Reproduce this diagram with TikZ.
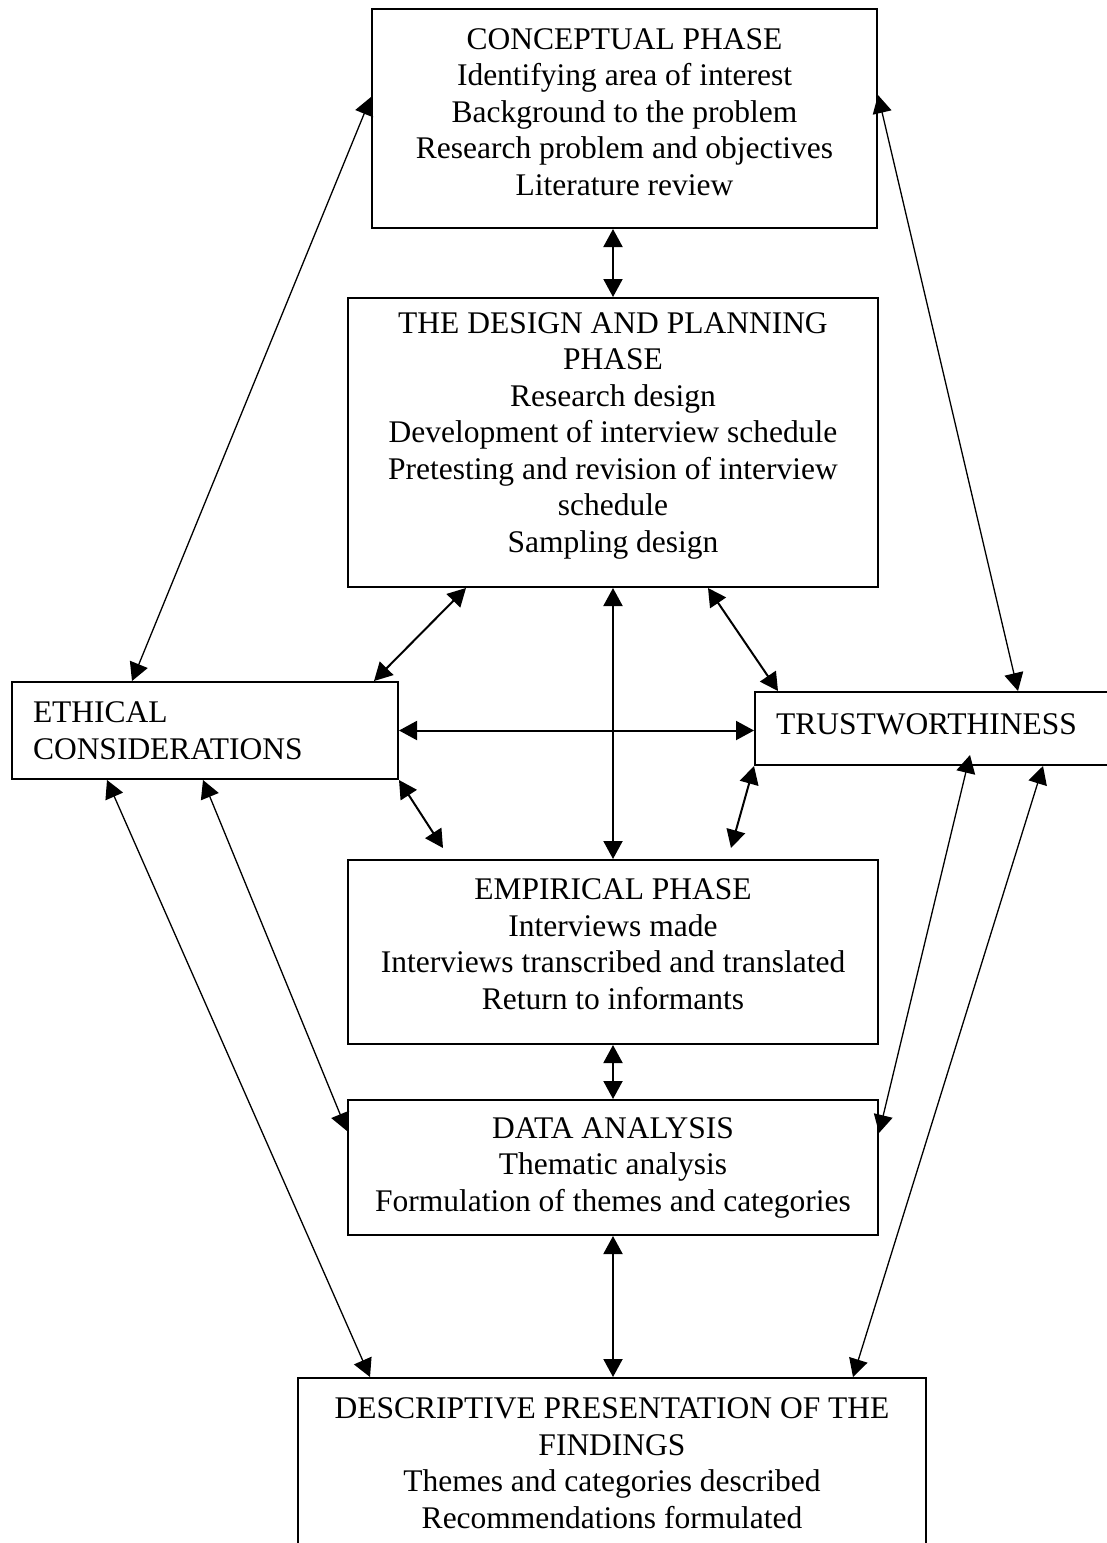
\documentclass[tikz,border=0pt]{standalone}
\usepackage{fontspec}
\setmainfont{Liberation Serif}
\usetikzlibrary{arrows.meta,calc}

\begin{document}
\begin{tikzpicture}[line cap=round,>={Triangle[length=9pt,width=9.5pt]},x=0.5pt,y=-0.5pt,
    every node/.style={font=\fontsize{15.75}{18.25}\selectfont},
    phase/.style={draw,line width=1pt,anchor=north west,align=center,inner sep=0pt},
    side/.style={draw,line width=1pt,anchor=north west,align=left,inner xsep=10.5pt,inner ysep=0pt},
    link/.style={<->,line width=1pt},
    farlink/.style={<->,line width=0.65pt}]
      \clip(0,0) rectangle (1107,1543);

      % the phases, top to bottom (the \rule lifts the text towards the top)
      \node[phase,minimum width=252.5pt,minimum height=109.5pt] (concept) at (371,8)
        {CONCEPTUAL PHASE\\Identifying area of interest\\Background to the problem\\Research problem and objectives\\Literature review\rule[-6.5pt]{0pt}{0pt}};
      \node[phase,minimum width=265pt,minimum height=144.5pt] (design) at (347,297)
        {THE DESIGN AND PLANNING\\PHASE\\Research design\\Development of interview schedule\\Pretesting and revision of interview\\schedule\\Sampling design\rule[-10pt]{0pt}{0pt}};
      \node[phase,minimum width=265pt,minimum height=92pt] (emp) at (347,859)
        {EMPIRICAL PHASE\\Interviews made\\Interviews transcribed and translated\\Return to informants\rule[-8pt]{0pt}{0pt}};
      \node[phase,minimum width=265pt,minimum height=67.5pt] (data) at (347,1099)
        {DATA ANALYSIS\\Thematic analysis\\Formulation of themes and categories};
      \node[phase,minimum width=314pt,minimum height=85pt] (desc) at (297,1377)
        {DESCRIPTIVE PRESENTATION OF THE\\FINDINGS\\Themes and categories described\\Recommendations formulated};

      % the two side boxes
      \node[side,text width=172pt,minimum height=48.5pt] (ethic) at (11,681) {ETHICAL\\CONSIDERATIONS};
      \node[side,text width=167pt,minimum height=36.5pt] (trust) at (754,691) {TRUSTWORTHINESS\rule[-4.5pt]{0pt}{0pt}};

      \draw[link] (concept.south -| design.north) -- (design.north);
      \draw[link] (design.south) -- (emp.north);
      \draw[link] (emp.south) -- (data.north);
      \draw[link] (data.south) -- (data.south |- desc.north);
      \draw[link] (ethic.east) -- (ethic.east -| trust.west);

      \draw[link] ($(design.south west)+(119,0)$) -- ($(ethic.north east)+(-25,0)$);
      \draw[link] ($(design.south west)+(361,0)$) -- ($(trust.north west)+(24,0)$);
      \draw[link] (ethic.south east) -- ($(emp.north west)+(96,-11)$);
      \draw[link] (trust.south west) -- ($(emp.north west)+(384,-11)$);

      \draw[farlink] ($(ethic.north west)+(121,0)$) -- ($(concept.north west)+(0,89)$);
      \draw[farlink] ($(trust.north west)+(264,0)$) -- ($(concept.north east)+(0,87)$);
      \draw[farlink] ($(ethic.south west)+(192,0)$) -- ($(data.north west)+(0,32)$);
      \draw[farlink] ($(ethic.south west)+(96,0)$) -- ($(desc.north west)+(73,0)$);
      \draw[farlink] ($(trust.south west)+(216,-11)$) -- ($(data.north east)+(0,34)$);
      \draw[farlink] ($(trust.south west)+(289,0)$) -- ($(desc.north east)+(-74,0)$);
\end{tikzpicture}
\end{document}
